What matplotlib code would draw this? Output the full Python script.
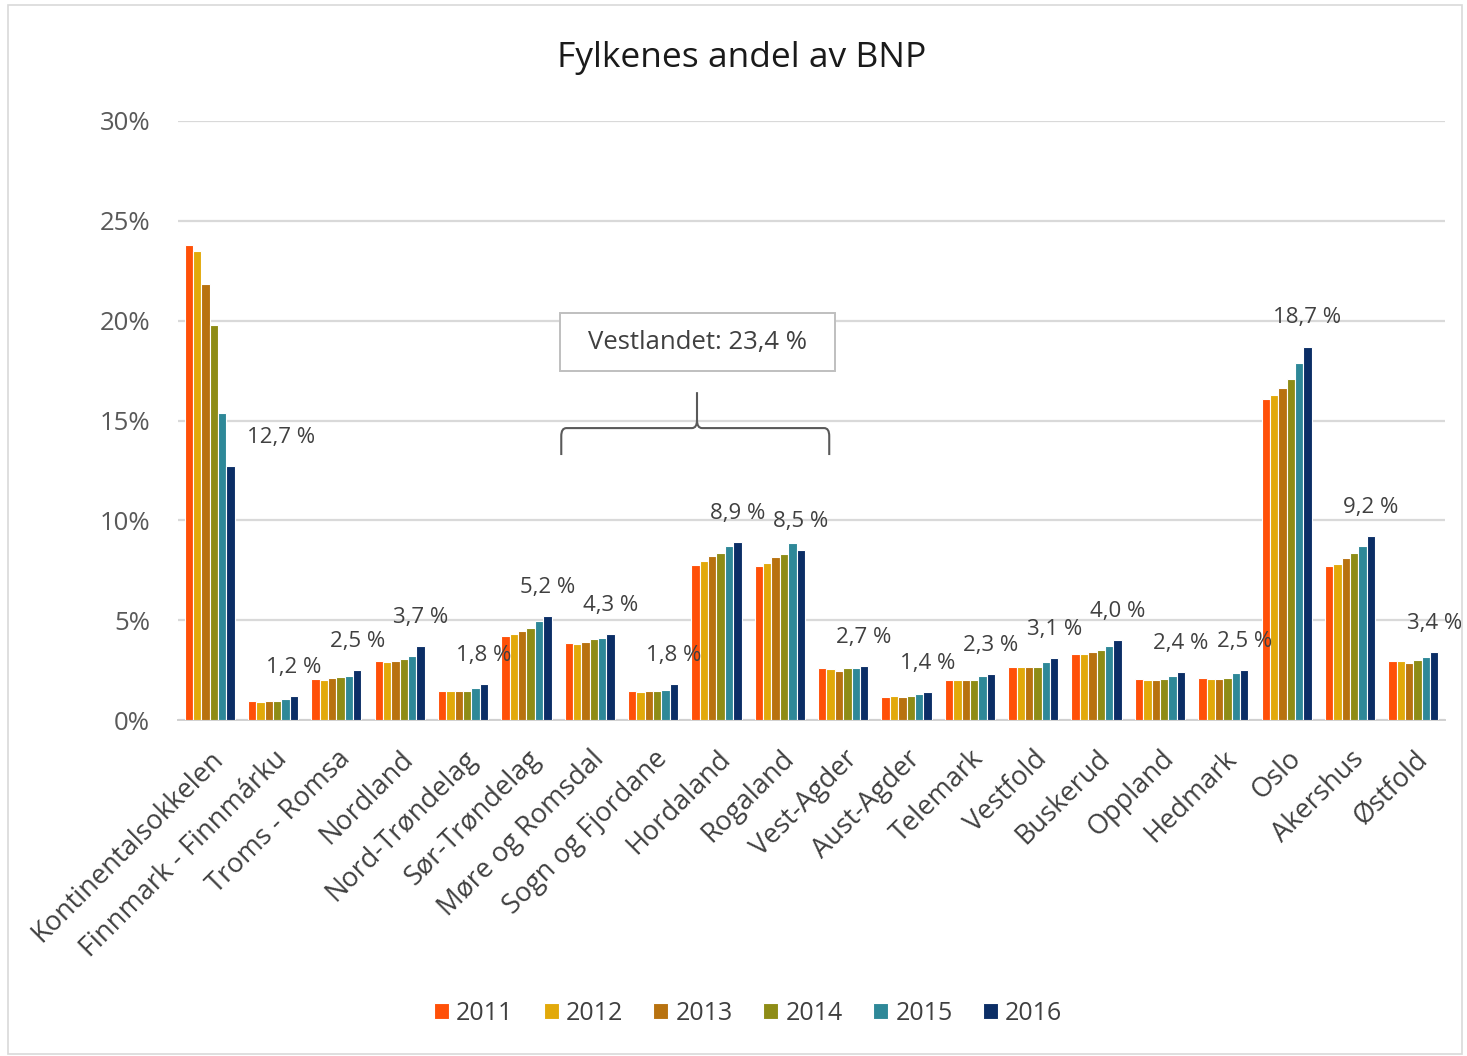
import matplotlib
matplotlib.use("Agg")
import matplotlib.pyplot as plt
from matplotlib.patches import Rectangle
from matplotlib.path import Path
from matplotlib.patches import PathPatch
import numpy as np

categories = ["Kontinentalsokkelen", "Finnmark - Finnmárku", "Troms - Romsa", "Nordland",
              "Nord-Trøndelag", "Sør-Trøndelag", "Møre og Romsdal", "Sogn og Fjordane",
              "Hordaland", "Rogaland", "Vest-Agder", "Aust-Agder", "Telemark", "Vestfold",
              "Buskerud", "Oppland", "Hedmark", "Oslo", "Akershus", "Østfold"]
years = ["2011", "2012", "2013", "2014", "2015", "2016"]

v2011 = [23.8, 0.95, 2.05, 2.95, 1.45, 4.2, 3.85, 1.45, 7.75, 7.7, 2.6, 1.15, 2.0, 2.65, 3.3, 2.05, 2.1, 16.1, 7.7, 2.95]
v2012 = [23.5, 0.9, 2.0, 2.9, 1.45, 4.3, 3.8, 1.4, 7.95, 7.85, 2.55, 1.2, 2.0, 2.65, 3.3, 2.0, 2.05, 16.3, 7.8, 2.95]
v2013 = [21.85, 0.95, 2.1, 2.95, 1.45, 4.45, 3.9, 1.45, 8.2, 8.15, 2.45, 1.15, 2.0, 2.65, 3.4, 2.0, 2.05, 16.65, 8.1, 2.85]
v2014 = [19.8, 0.95, 2.15, 3.05, 1.45, 4.6, 4.05, 1.45, 8.35, 8.3, 2.6, 1.2, 2.0, 2.65, 3.5, 2.05, 2.1, 17.1, 8.35, 3.0]
v2015 = [15.4, 1.05, 2.2, 3.2, 1.6, 4.95, 4.1, 1.5, 8.7, 8.85, 2.6, 1.3, 2.2, 2.9, 3.7, 2.2, 2.35, 17.9, 8.7, 3.15]
v2016 = [12.7, 1.2, 2.5, 3.7, 1.8, 5.2, 4.3, 1.8, 8.9, 8.5, 2.7, 1.4, 2.3, 3.1, 4.0, 2.4, 2.5, 18.7, 9.2, 3.4]
series = [v2011, v2012, v2013, v2014, v2015, v2016]
colors = ["#FF5008", "#E2A90A", "#B8720F", "#8E8C16", "#2E8898", "#0B2E66"]

yticks = [0, 5, 10, 15, 20, 25, 30]
ytick_labels = ["0%", "5%", "10%", "15%", "20%", "25%", "30%"]

title = "Fylkenes andel av BNP"
callout = "Vestlandet: 23,4 %"

plt.rcParams['font.family'] = ['Open Sans', 'DejaVu Sans']

W, H = 1467, 1056
fig = plt.figure(figsize=(W / 100, H / 100), dpi=100)
ax = fig.add_axes([178 / W, 1 - 720 / H, (1445 - 178) / W, (720 - 121) / H])

# outer chart border
fig.patches.append(Rectangle((8 / W, 2 / H), (1462 - 8) / W, (1051 - 2) / H,
                             transform=fig.transFigure, fill=False,
                             edgecolor="#D9D9D9", linewidth=1.2))

x = np.arange(len(categories))
bw = 0.132
for i, (vals, c, yr) in enumerate(zip(series, colors, years)):
    ax.bar(x + (i - 2.5) * bw, vals, width=bw, color=c, edgecolor="white",
           linewidth=0.8, label=yr, zorder=3)

# data labels for 2016
for xi, v in zip(x, v2016):
    dx = 50 if xi == 0 else 0
    ax.annotate(f"{v:.1f}".replace(".", ",") + " %", (xi + 2.5 * bw, v),
                xytext=(dx, 29), textcoords="offset pixels",
                ha="center", va="center", fontsize=16, color="#404040", zorder=5)

ax.set_xlim(-0.5, len(categories) - 0.5)
ax.set_ylim(0, 30)
ax.set_yticks(yticks)
ax.set_yticklabels(ytick_labels, fontsize=18.5, color="#595959")
ax.yaxis.grid(True, color="#D9D9D9", linewidth=1.6, zorder=0)
ax.set_axisbelow(True)
for s in ["top", "right", "left"]:
    ax.spines[s].set_visible(False)
ax.spines["bottom"].set_color("#D0D0D0")
ax.spines["bottom"].set_linewidth(1.4)
ax.tick_params(axis="y", length=0, pad=20)
ax.tick_params(axis="x", length=0, pad=18)
ax.set_xticks(x)
ax.set_xticklabels(categories, rotation=45, ha="right", rotation_mode="anchor",
                   fontsize=19.5, color="#404040")

fig.text(742 / W, 1 - 58 / H, title, ha="center", va="center", fontsize=25.5, color="#1a1a1a")

# callout box
ax.add_patch(Rectangle((5.53, 17.48), 9.87 - 5.53, 20.38 - 17.48, facecolor="white",
                       edgecolor="#BFBFBF", linewidth=1.4, zorder=6))
ax.text((5.53 + 9.87) / 2, (17.48 + 20.38) / 2, callout, ha="center", va="center",
        fontsize=18.5, color="#404040", zorder=7)

# brace
xl, xr = 5.55, 9.78
xm = (697 - 178) / 63.35 - 0.5
yb, yh, yt = 13.27, 14.62, 16.42
r = 0.08
verts = [(xl, yb), (xl, yh - 0.4), (xl, yh), (xl + r, yh),
         (xm - r, yh), (xm, yh), (xm, yh + 0.4), (xm, yt)]
codes = [Path.MOVETO, Path.LINETO, Path.CURVE3, Path.CURVE3,
         Path.LINETO, Path.CURVE3, Path.CURVE3, Path.LINETO]
ax.add_patch(PathPatch(Path(verts, codes), fill=False, edgecolor="#595959", linewidth=1.5, zorder=6))
verts2 = [(xr, yb), (xr, yh - 0.4), (xr, yh), (xr - r, yh),
          (xm + r, yh), (xm, yh), (xm, yh + 0.4)]
codes2 = [Path.MOVETO, Path.LINETO, Path.CURVE3, Path.CURVE3,
          Path.LINETO, Path.CURVE3, Path.CURVE3]
ax.add_patch(PathPatch(Path(verts2, codes2), fill=False, edgecolor="#595959", linewidth=1.5, zorder=6))

leg = fig.legend(loc="center", bbox_to_anchor=(748 / W, 1 - 1013 / H), ncol=6,
                 frameon=False, fontsize=18, handlelength=0.6, handleheight=0.6,
                 handletextpad=0.3, columnspacing=1.2, labelcolor="#404040")

fig.savefig("out.png", dpi=100, facecolor="white")
